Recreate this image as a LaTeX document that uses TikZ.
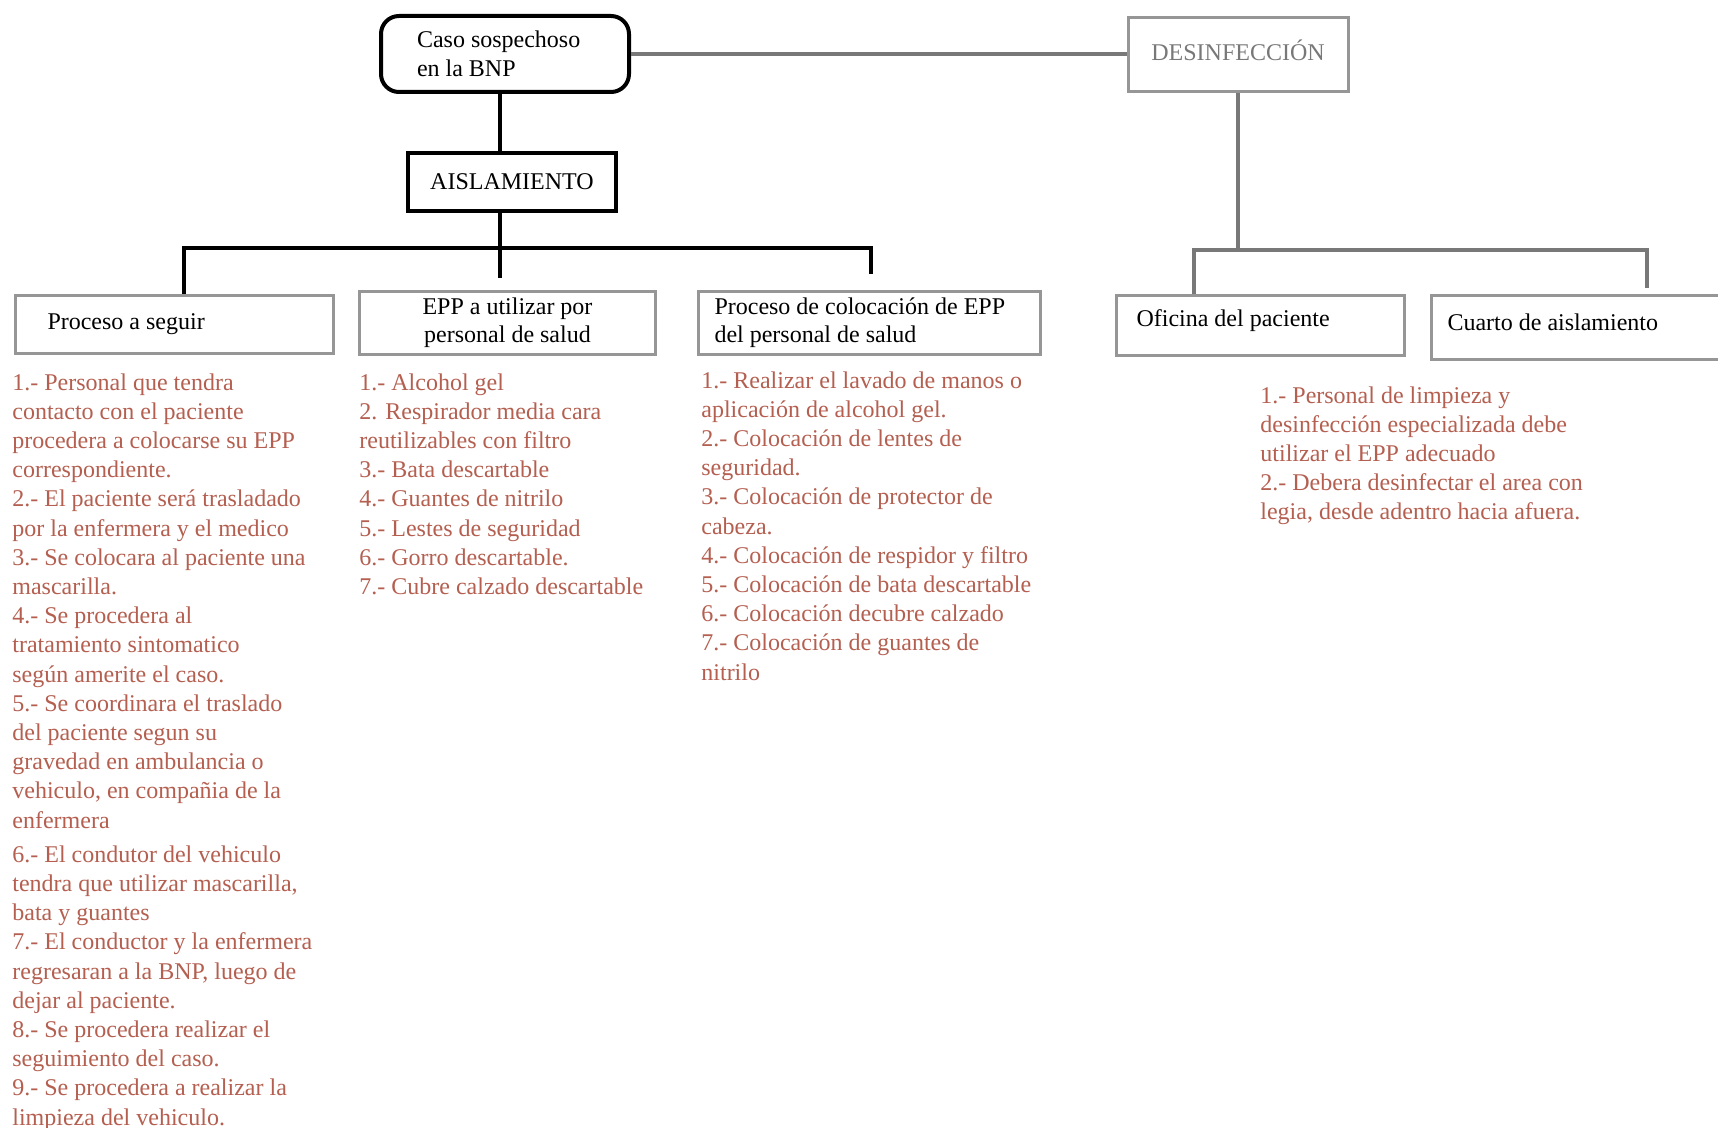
\documentclass[tikz,border=0pt]{standalone}
\usepackage{fontspec}
\setmainfont{Liberation Serif}
\definecolor{itemred}{RGB}{180,95,80}
\definecolor{boxgray}{RGB}{150,150,150}
\definecolor{linegray}{RGB}{120,120,120}
\tikzstyle{mainbox} = [rectangle, draw=black, line width=2pt, fill=white, font=\fontsize{12}{14.5}\selectfont]
\tikzstyle{subbox} = [rectangle, draw=boxgray, line width=1.5pt, fill=white, anchor=north west, align=flush left, font=\fontsize{12}{14}\selectfont]
\tikzstyle{itemtext} = [anchor=north west, inner sep=0pt, align=flush left, text=itemred, font=\fontsize{12}{14.6}\selectfont]
\tikzstyle{blackline} = [line width=2.2pt]
\tikzstyle{grayline} = [line width=1.7pt, draw=linegray]

\begin{document}
\begin{tikzpicture}[x=0.5pt,y=-0.5pt]
            \clip (0,0) rectangle (1718,1128);
            \fill [white] (0,0) rectangle (1718,1128);

            \node [mainbox, rounded corners=9pt, anchor=north west, minimum width=124pt, minimum height=38pt, inner xsep=18pt, text width=88pt, align=flush left] at (379,14) (caso) {Caso sospechoso\\en la BNP};
            \node [mainbox, minimum width=104pt, minimum height=29pt] at (512,182) (aisl) {AISLAMIENTO};
            \node [rectangle, draw=boxgray, line width=1.5pt, minimum width=110pt, minimum height=37pt, text depth=5pt, text=linegray, font=\fontsize{12}{14}\selectfont] at (1238,55) (desinf) {DESINFECCIÓN};

            \node [subbox, minimum width=159pt, minimum height=29pt, inner xsep=16pt, text width=127pt] at (14,294) (proc) {Proceso a seguir};
            \node [subbox, minimum width=148pt, minimum height=31pt, inner xsep=6pt, text width=136pt, align=flush center] at (358,290) (epp) {EPP a utilizar por\\personal de salud};
            \node [subbox, minimum width=170pt, minimum height=31pt, inner xsep=8pt, text width=155pt] at (697,290) (coloc) {Proceso de colocación de EPP\\del personal de salud};
            \node [subbox, minimum width=144pt, minimum height=30pt, inner xsep=10pt, text width=124pt, text depth=7pt] at (1115,294) (ofic) {Oficina del paciente};
            \node [subbox, minimum width=160pt, minimum height=32pt, inner xsep=8pt, text width=144pt, text depth=5pt] at (1430,294) (cuarto) {Cuarto de aislamiento};

            \node [itemtext] at (12,373) (proclist) {1.- Personal que tendra\\contacto con el paciente\\procedera a colocarse su EPP\\correspondiente.\\2.- El paciente será trasladado\\por la enfermera y el medico\\3.- Se colocara al paciente una\\mascarilla.\\4.- Se procedera al\\tratamiento sintomatico\\según amerite el caso.\\5.- Se coordinara el traslado\\del paciente segun su\\gravedad en ambulancia o\\vehiculo, en compañia de la\\enfermera\\[2.5pt]6.- El condutor del vehiculo\\tendra que utilizar mascarilla,\\bata y guantes\\7.- El conductor y la enfermera\\regresaran a la BNP, luego de\\dejar al paciente.\\8.- Se procedera realizar el\\seguimiento del caso.\\9.- Se procedera a realizar la\\limpieza del vehiculo.};
            \node [itemtext] at (359,373) (epplist) {1.- Alcohol gel\\2. Respirador media cara\\reutilizables con filtro\\3.- Bata descartable\\4.- Guantes de nitrilo\\5.- Lestes de seguridad\\6.- Gorro descartable.\\7.- Cubre calzado descartable};
            \node [itemtext] at (701,371) (coloclist) {1.- Realizar el lavado de manos o\\aplicación de alcohol gel.\\2.- Colocación de lentes de\\seguridad.\\3.- Colocación de protector de\\cabeza.\\4.- Colocación de respidor y filtro\\5.- Colocación de bata descartable\\6.- Colocación decubre calzado\\7.- Colocación de guantes de\\nitrilo};
            \node [itemtext] at (1260,386) (deslist) {1.- Personal de limpieza y\\desinfección especializada debe\\utilizar el EPP adecuado\\2.- Debera desinfectar el area con\\legia, desde adentro hacia afuera.};

            \coordinate (aislbus) at (500,248);
            \coordinate (aislleft) at (184,248);
            \coordinate (aislright) at (871,248);
            \coordinate (aislrightend) at (871,274);
            \coordinate (aislmidend) at (500,278);
            \coordinate (desbus) at (1238,250);
            \coordinate (desleft) at (1194,250);
            \coordinate (desright) at (1647,250);
            \coordinate (desrightend) at (1647,288);

            \draw [blackline] (caso.south -| aislbus) -- (aisl.north -| aislbus);
            \draw [blackline] (aisl.south -| aislbus) -- (aislmidend);
            \draw [blackline] (proc.north -| aislleft) -- (aislleft) -- (aislright) -- (aislrightend);
            \draw [grayline] (caso.east) -- (caso.east -| desinf.west);
            \draw [grayline] (desinf.south) -- (desbus);
            \draw [grayline] (ofic.north -| desleft) -- (desleft) -- (desright) -- (desrightend);
            \end{tikzpicture}
\end{document}
